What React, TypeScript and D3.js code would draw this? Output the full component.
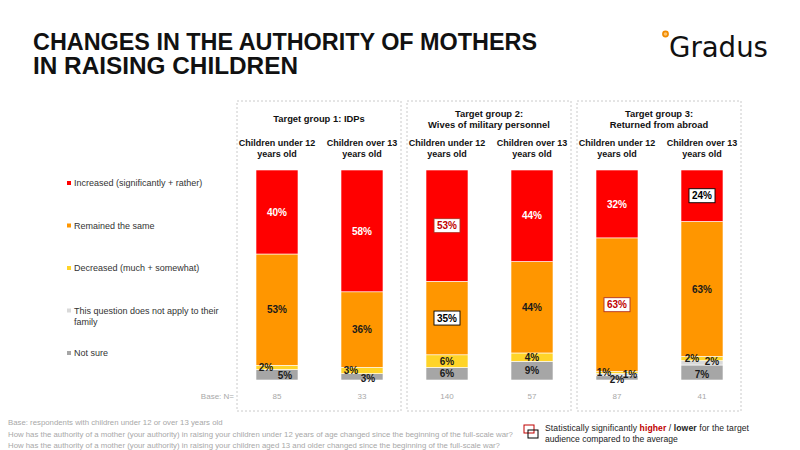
import * as d3 from "d3";

const groupTitles = [
  ["Target group 1: IDPs"],
  ["Target group 2:", "Wives of military  personnel"],
  ["Target group 3:", "Returned from abroad"],
];
const ageTitles = [
  ["Children under 12", "years old"],
  ["Children over 13", "years old"],
];
const seriesKeys = ["increased", "remained", "decreased", "notApply", "notSure"];
const seriesNames = [
  ["Increased (significantly + rather)"],
  ["Remained the same"],
  ["Decreased (much + somewhat)"],
  ["This question does not apply to their", "family"],
  ["Not sure"],
];
const increased = [40, 58, 53, 44, 32, 24];
const remained = [53, 36, 35, 44, 63, 63];
const decreased = [2, 3, 6, 4, 1, 2];
const notApply = [0, 0, 0, 0, 1, 2];
const notSure = [5, 3, 6, 9, 2, 7];
const baseN = [85, 33, 140, 57, 87, 41];
// significance flags: "bar:series"
const sigHigher = ["2:increased", "4:remained"];
const sigLower = ["2:remained", "5:increased"];

const colors: Record<string, string> = {
  increased: "#FF0000",
  remained: "#FF9600",
  decreased: "#FFD428",
  notApply: "#D9D9D9",
  notSure: "#A6A6A6",
};

// label nudges for thin segments [dx, dy]
const nudge: Record<string, [number, number]> = {
  "0:decreased": [-11, 0],
  "0:notSure": [8, 1],
  "1:decreased": [-11, 0],
  "1:notSure": [6, 2],
  "4:decreased": [-13, 0],
  "4:notApply": [13, 0],
  "4:notSure": [0, 2],
  "5:decreased": [-10, 0],
  "5:notApply": [10, -1],
  "5:notSure": [0, 1.5],
};

const FONT = "'Liberation Sans', Arial, sans-serif";

export default function App() {
  const rows = increased.map((_, i) => ({
    bar: i,
    increased: increased[i],
    remained: remained[i],
    decreased: decreased[i],
    notApply: notApply[i],
    notSure: notSure[i],
  }));

  const stack = d3
    .stack<any>()
    .keys(["notSure", "notApply", "decreased", "remained", "increased"])
    .offset(d3.stackOffsetExpand);
  const layers = stack(rows);

  const x = d3.scalePoint<number>().domain(d3.range(6)).range([277, 702]);
  const y = d3.scaleLinear().domain([0, 1]).range([380, 170]);
  const barW = 42;

  return (
    <div style={{ position: "absolute", left: 0, top: 0 }}>
      <svg width={800} height={450} style={{ fontFamily: FONT, display: "block" }}>
        <rect width={800} height={450} fill="#fff" />
        {/* title */}
        <text x={33} y={50} fontSize={23.5} fontWeight="bold" fill="#111" textLength={504}
          lengthAdjust="spacingAndGlyphs">
          CHANGES IN THE AUTHORITY OF MOTHERS
        </text>
        <text x={33} y={74} fontSize={23.5} fontWeight="bold" fill="#111" textLength={265}
          lengthAdjust="spacingAndGlyphs">
          IN RAISING CHILDREN
        </text>

        {/* logo */}
        <circle cx={665.5} cy={34} r={2.6} fill="#FFC36B" stroke="#F08A00" strokeWidth={1.6} />
        <text x={669} y={57} fontSize={28} fill="#111" textLength={99} lengthAdjust="spacingAndGlyphs"
          style={{ fontFamily: "'DejaVu Sans', sans-serif" }}>
          Gradus
        </text>

        {/* panels */}
        {groupTitles.map((lines, g) => {
          const left = x(g * 2)! - 40;
          const right = x(g * 2 + 1)! + 39;
          const cx = (left + right) / 2;
          return (
            <g key={g}>
              <rect x={left} y={101} width={right - left} height={310} fill="none"
                stroke="#BDBDBD" strokeWidth={0.8} strokeDasharray="2,2" />
              {lines.map((t, k) => (
                <text key={k} x={cx} y={lines.length === 1 ? 122 : 117 + k * 10.5} textAnchor="middle"
                  fontSize={9.4} fontWeight="bold" fill="#111">
                  {t}
                </text>
              ))}
            </g>
          );
        })}

        {/* column headers */}
        {d3.range(6).map((i) =>
          ageTitles[i % 2].map((t, k) => (
            <text key={`${i}-${k}`} x={x(i)} y={146 + k * 11} textAnchor="middle" fontSize={9}
              fontWeight="bold" fill="#111">
              {t}
            </text>
          ))
        )}

        {/* bars */}
        {layers.map((layer) =>
          layer.map((d, i) => (
            <rect key={`${layer.key}-${i}`} x={x(i)! - barW / 2} y={y(d[1])} width={barW}
              height={Math.max(0, y(d[0]) - y(d[1]))} fill={colors[layer.key]}
              stroke="#fff" strokeWidth={0.6} />
          ))
        )}

        {/* labels */}
        {layers.map((layer) =>
          layer.map((d, i) => {
            const v = (rows[i] as any)[layer.key] as number;
            if (!v) return null;
            const id = `${i}:${layer.key}`;
            const [dx, dy] = nudge[id] || [0, 0];
            const cx = x(i)! + dx;
            const cy = (y(d[0]) + y(d[1])) / 2 + dy;
            const hi = sigHigher.includes(id);
            const lo = sigLower.includes(id);
            const fill = hi ? "#C00000" : lo ? "#000" : layer.key === "increased" ? "#fff" : "#1a1a1a";
            return (
              <g key={id}>
                {(hi || lo) && (
                  <rect x={cx - 13} y={cy - 7} width={26} height={14} fill="#fff"
                    stroke={hi ? "#B03020" : "#000"} strokeWidth={0.9} />
                )}
                <text x={cx} y={cy + 3.6} textAnchor="middle" fontSize={10} fontWeight="bold" fill={fill}>
                  {v}%
                </text>
              </g>
            );
          })
        )}

        {/* base N */}
        <text x={234} y={399} textAnchor="end" fontSize={8} fill="#A8A8A8">
          Base: N=
        </text>
        {baseN.map((n, i) => (
          <text key={i} x={x(i)} y={399} textAnchor="middle" fontSize={8} fill="#A8A8A8">
            {n}
          </text>
        ))}

        {/* left legend */}
        {seriesKeys.map((k, i) => {
          const yy = 183 + i * 42.5;
          return (
            <g key={k}>
              <rect x={67} y={yy - 2} width={4} height={4} fill={colors[k]} />
              {seriesNames[i].map((t, j) => (
                <text key={j} x={74} y={yy + 3 + j * 11} fontSize={9} fill="#333">
                  {t}
                </text>
              ))}
            </g>
          );
        })}

        {/* footnotes */}
        {[
          "Base: respondents with children under 12 or over 13 years old",
          "How has the authority of a mother (your authority) in raising your children under 12 years of age changed since the beginning of the full-scale war?",
          "How has the authority of a mother (your authority) in raising your children aged 13 and older changed since the beginning of the full-scale war?",
        ].map((t, i) => (
          <text key={i} x={8} y={425 + i * 11.5} fontSize={7.8} fill="#A8A8A8">
            {t}
          </text>
        ))}

        {/* significance legend */}
        <rect x={524} y={425} width={10} height={8} fill="none" stroke="#C00000" strokeWidth={1} />
        <rect x={528} y={430} width={10} height={8} fill="none" stroke="#000" strokeWidth={1} />
        <text x={545} y={431} fontSize={8.6} fill="#222" textLength={204} lengthAdjust="spacing">
          Statistically significantly <tspan fill="#C00000" fontWeight="bold">higher</tspan> /{" "}
          <tspan fontWeight="bold">lower</tspan> for the target
        </text>
        <text x={545} y={442} fontSize={8.6} fill="#222">
          audience compared to the average
        </text>
      </svg>
    </div>
  );
}
